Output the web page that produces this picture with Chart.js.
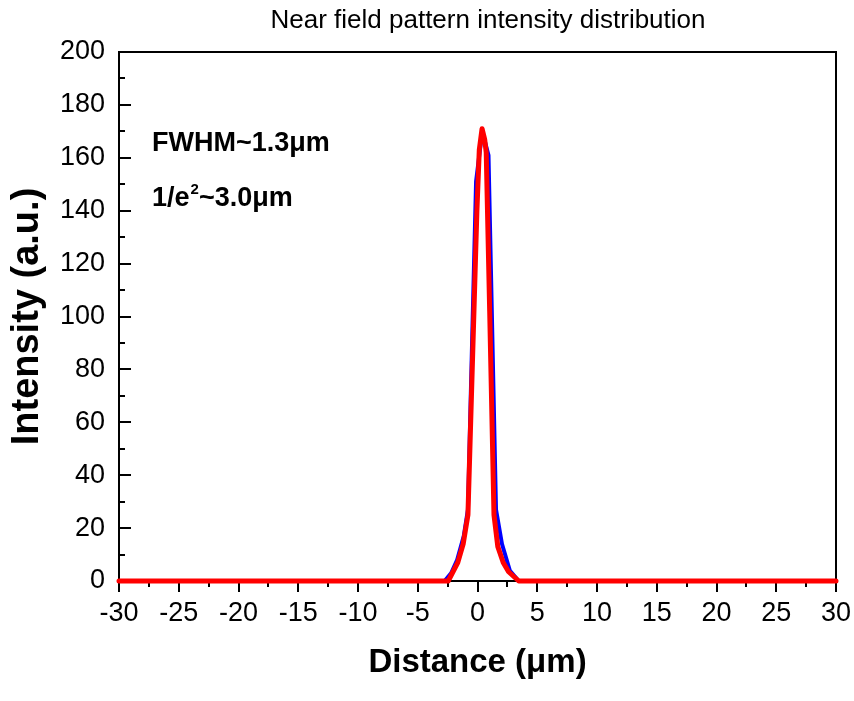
<!DOCTYPE html>
<html>
<head>
<meta charset="utf-8">
<script src="https://cdn.jsdelivr.net/npm/chart.js@4.4.1/dist/chart.umd.min.js"></script>
<style>
  html, body { margin: 0; padding: 0; background: #fff; }
</style>
</head>
<body>
<canvas id="nfp" width="854" height="701"></canvas>
<script>
// Measured profile (blue) and fitted profile (red)
const blueX = [-30, -2.75, -2.2, -1.7, -1.15, -0.8, -0.12, 0.4, 0.92, 1.55, 2.05, 2.7, 3.45, 30];
const blueY = [0, 0, 3, 8, 17, 27, 151, 170, 161, 27, 14, 4, 0, 0];

const redX = [-30, -2.45, -1.65, -1.2, -0.8, -0.05, 0.15, 0.38, 0.6, 0.73, 1.02, 1.38, 1.7, 2.15, 2.6, 3.45, 30];
const redY = [0, 0, 7, 14, 25, 140, 163, 171, 167, 162, 102, 25, 13, 7, 3.5, 0, 0];

const xRange = [-30, 30];
const yRange = [0, 200];
const xTickStep = 5;
const yTickStep = 20;

const titleText = 'Near field pattern intensity distribution';
const notes = ['FWHM~1.3μm', '1/e', '2', '~3.0μm'];

const FONT = "'Liberation Sans', Arial, sans-serif";

function toPoints(xs, ys) {
    return xs.map((x, i) => ({ x: x, y: ys[i] }));
}

// axis box, tick marks, title and the two notes
const framePlugin = {
    id: 'frame',
    beforeDatasetsDraw(chart) {
        const ctx = chart.ctx;
        const a = chart.chartArea;
        const xs = chart.scales.x;
        const ys = chart.scales.y;
        ctx.save();
        ctx.strokeStyle = '#000';
        ctx.lineWidth = 2;
        ctx.strokeRect(a.left, a.top, a.right - a.left, a.bottom - a.top);

        ctx.beginPath();
        for (let v = xRange[0]; v <= xRange[1]; v += xTickStep / 2) {
            const px = Math.round(xs.getPixelForValue(v));
            const len = (v % xTickStep === 0) ? 11 : 6;
            ctx.moveTo(px, a.bottom);
            ctx.lineTo(px, a.bottom + len);
        }
        for (let v = yRange[0]; v <= yRange[1]; v += yTickStep / 2) {
            const py = Math.round(ys.getPixelForValue(v));
            const len = (v % yTickStep === 0) ? 12 : 6;
            ctx.moveTo(a.left, py);
            ctx.lineTo(a.left + len, py);
        }
        ctx.stroke();
        ctx.restore();
    },
    afterDraw(chart) {
        const ctx = chart.ctx;
        ctx.save();
        ctx.fillStyle = '#000';
        ctx.textBaseline = 'alphabetic';

        ctx.font = '26px ' + FONT;
        ctx.textAlign = 'center';
        ctx.fillText(titleText, 488, 28);

        ctx.textAlign = 'left';
        ctx.font = 'bold 27px ' + FONT;
        ctx.fillText(notes[0], 152, 151);

        let x = 152;
        ctx.fillText(notes[1], x, 206);
        x += ctx.measureText(notes[1]).width;
        ctx.font = 'bold 15px ' + FONT;
        ctx.fillText(notes[2], x + 1, 194);
        x += ctx.measureText(notes[2]).width + 1;
        ctx.font = 'bold 27px ' + FONT;
        ctx.fillText(notes[3], x, 206);
        ctx.restore();
    }
};

const ctx = document.getElementById('nfp').getContext('2d');
const nfpChart = new Chart(ctx, {
    type: 'line',
    data: {
        datasets: [
            {
                label: 'Fit',
                data: toPoints(redX, redY),
                borderColor: '#ff0000',
                borderWidth: 5,
                borderJoinStyle: 'round',
                borderCapStyle: 'round',
                pointRadius: 0,
                fill: false,
                tension: 0,
                clip: 6,
                order: 0
            },
            {
                label: 'Measured',
                data: toPoints(blueX, blueY),
                borderColor: '#0000ff',
                borderWidth: 4,
                borderJoinStyle: 'round',
                pointRadius: 0,
                fill: false,
                tension: 0,
                clip: 6,
                order: 1
            }
        ]
    },
    options: {
        responsive: false,
        animation: false,
        devicePixelRatio: 1,
        layout: { padding: { left: 0, right: 18, top: 52, bottom: 0 } },
        plugins: {
            legend: { display: false },
            tooltip: { enabled: false }
        },
        scales: {
            x: {
                type: 'linear',
                min: xRange[0],
                max: xRange[1],
                grid: { display: false, drawTicks: false },
                border: { display: false },
                ticks: {
                    stepSize: xTickStep,
                    autoSkip: false,
                    maxRotation: 0,
                    padding: 16,
                    color: '#000',
                    font: { family: FONT, size: 27 }
                },
                title: {
                    display: true,
                    text: 'Distance (μm)',
                    color: '#000',
                    font: { family: FONT, size: 33, weight: 'bold' },
                    padding: { top: 0, bottom: 18 }
                },
                afterFit(scale) {
                    scale.height = 120;
                    scale.paddingLeft = 0;
                    scale.paddingRight = 0;
                }
            },
            y: {
                min: yRange[0],
                max: yRange[1],
                grid: { display: false, drawTicks: false },
                border: { display: false },
                ticks: {
                    stepSize: yTickStep,
                    padding: 14,
                    color: '#000',
                    font: { family: FONT, size: 27 }
                },
                title: {
                    display: true,
                    text: 'Intensity (a.u.)',
                    color: '#000',
                    font: { family: FONT, size: 38, weight: 'bold' },
                    padding: { top: 5, bottom: 0 }
                },
                afterFit(scale) { scale.width = 119; }
            }
        }
    },
    plugins: [framePlugin]
});
</script>
</body>
</html>
